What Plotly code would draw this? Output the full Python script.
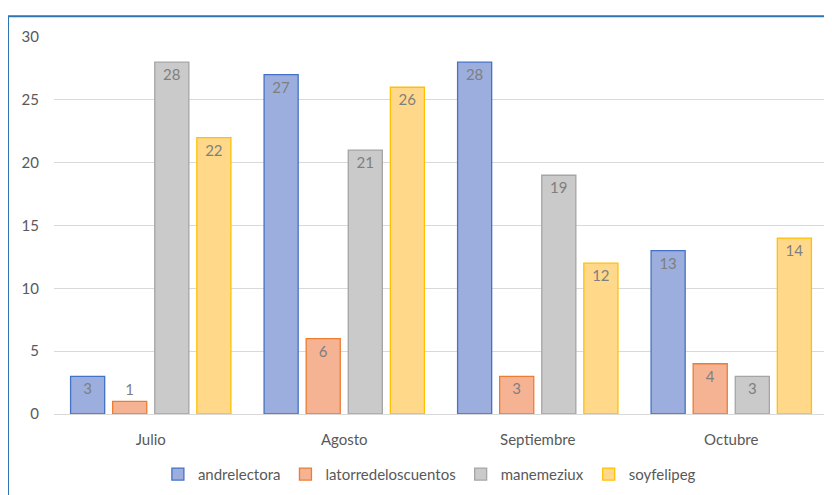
import plotly.graph_objects as go

months = ["Julio", "Agosto", "Septiembre", "Octubre"]
series_names = ["andrelectora", "latorredeloscuentos", "manemeziux", "soyfelipeg"]
andrelectora = [3, 27, 28, 13]
latorredeloscuentos = [1, 6, 3, 4]
manemeziux = [28, 21, 19, 3]
soyfelipeg = [22, 26, 12, 14]
y_ticks = [0, 5, 10, 15, 20, 25, 30]

values = [andrelectora, latorredeloscuentos, manemeziux, soyfelipeg]
fills = ["#9CAEDD", "#F6B394", "#CACACA", "#FFD88A"]
borders = ["#4472C4", "#ED7D31", "#A5A5A5", "#FFC000"]

FONT = "Lato, 'Open Sans', sans-serif"

fig = go.Figure()
for name, vals, fc, bc in zip(series_names, values, fills, borders):
    fig.add_trace(go.Bar(
        name=name, x=months, y=vals,
        marker=dict(color=fc, line=dict(color=bc, width=1.3)),
        text=[str(v) for v in vals],
        textposition=["inside" if v >= 2 else "outside" for v in vals],
        insidetextanchor="end", textangle=0,
        textfont=dict(color="#7F7F7F", size=15, family=FONT),
        cliponaxis=False,
    ))

# page body has an 8px margin; figure drawn at (8,8)
W, H = 824, 487
L, R, T, B = 46, 4, 29, 78
pw, ph = W - L - R, H - T - B

fig.add_shape(type="rect", xref="paper", yref="paper",
              x0=(0 - L) / pw, x1=(W + 10 - L) / pw,
              y0=-(H + 10 - (T + ph)) / ph, y1=(T + ph - 8) / ph,
              line=dict(color="#2E75B6", width=2), fillcolor="rgba(0,0,0,0)", layer="above")

fig.update_layout(
    width=W, height=H,
    margin=dict(l=L, r=R, t=T, b=B),
    paper_bgcolor="white", plot_bgcolor="white",
    barmode="group", bargap=0.13, bargroupgap=0.19,
    font=dict(family=FONT, color="#595959", size=15),
    uniformtext=dict(minsize=15, mode="show"),
    showlegend=True,
    legend=dict(orientation="h", x=0.485, xanchor="center", y=-0.16, yanchor="middle",
                font=dict(size=15, color="#595959", family=FONT),
                itemwidth=30, tracegroupgap=0),
    xaxis=dict(showgrid=False, showline=True, linecolor="#D9D9D9", linewidth=1,
               ticks="", tickfont=dict(size=15, color="#595959"), ticklabelstandoff=12),
    yaxis=dict(range=[0, 30], tickvals=y_ticks, showgrid=True, gridcolor="#D9D9D9",
               gridwidth=1, zeroline=False, showline=False, ticks="",
               tickfont=dict(size=15, color="#595959"), ticklabelstandoff=14),
)

fig.write_html("out.html")
